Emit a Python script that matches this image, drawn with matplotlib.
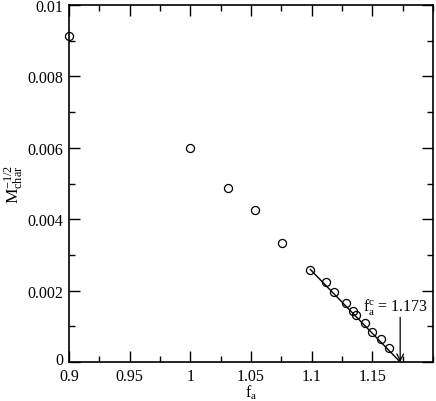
import matplotlib
matplotlib.use("Agg")
import matplotlib.pyplot as plt
import matplotlib.transforms as mtransforms
from matplotlib.ticker import MultipleLocator

plt.rcParams['font.family'] = ['Liberation Serif', 'DejaVu Serif']
plt.rcParams['mathtext.fontset'] = 'custom'
plt.rcParams['mathtext.rm'] = 'Liberation Serif'
plt.rcParams['mathtext.it'] = 'Liberation Serif:italic'

# data
fa_all = [0.9, 1.0, 1.031, 1.053, 1.076, 1.099, 1.112, 1.1185, 1.128, 1.134,
          1.137, 1.1437, 1.150, 1.157, 1.1638]
m_all = [0.00912, 0.00599, 0.00487, 0.00427, 0.00334, 0.00259, 0.00225,
         0.00197, 0.00164, 0.00144, 0.00132, 0.00109, 0.00085, 0.00064, 0.00040]
fit_x = [1.099, 1.173]
fit_y = [0.00259, 0.0]
fac = 1.173
arrow_top = 0.00125

xticks = [0.9, 0.95, 1.0, 1.05, 1.1, 1.15]
xticklabels = ['0.9', '0.95', '1', '1.05', '1.1', '1.15']
yticks = [0, 0.002, 0.004, 0.006, 0.008, 0.01]
yticklabels = ['0', '0.002', '0.004', '0.006', '0.008', '0.01']

fig = plt.figure(figsize=(4.36, 4.02), dpi=100)
ax = fig.add_axes([0.158, 0.097, 0.835, 0.888])

ax.plot(fit_x, fit_y, color='black', lw=1.0, zorder=2)
ax.plot(fa_all, m_all, linestyle='none', marker='o', markersize=5.8,
        markerfacecolor='none', markeredgecolor='black', markeredgewidth=0.9,
        clip_on=False, zorder=3)

ax.annotate('', xy=(fac, 0.0), xytext=(fac, arrow_top),
            arrowprops=dict(arrowstyle='->', color='black', lw=0.9,
                            mutation_scale=12, shrinkA=0, shrinkB=0))
ax.text(1.1696, 0.00158, r'$\mathrm{f}_{\mathrm{a}}^{\mathrm{c}}$ = 1.173',
        ha='center', va='center', fontsize=11.5)

ax.set_xlim(0.9, 1.2)
ax.set_ylim(0, 0.01)
ax.set_xticks(xticks)
ax.set_xticklabels(xticklabels)
ax.set_yticks(yticks)
ax.set_yticklabels(yticklabels)
ax.xaxis.set_minor_locator(MultipleLocator(0.025))
ax.yaxis.set_minor_locator(MultipleLocator(0.001))
ax.tick_params(which='both', direction='in', top=True, right=True,
               labelsize=11.5, width=1.0)
ax.tick_params(axis='x', which='both', pad=4)
ax.tick_params(axis='y', which='both', pad=4)
ax.tick_params(which='major', length=8)
ax.tick_params(which='minor', length=4)
for s in ax.spines.values():
    s.set_linewidth(1.2)
# lift the y "0" label a few pixels, as in the reference
zero_lbl = ax.get_yticklabels()[0]
zero_lbl.set_transform(zero_lbl.get_transform() +
                       mtransforms.ScaledTranslation(0, 3 / 72, fig.dpi_scale_trans))

ax.set_xlabel(r'$\mathrm{f}_{\mathrm{a}}$', fontsize=11.5, labelpad=-0.5)
ax.set_ylabel(r'$\mathrm{M}_{\mathrm{char}}^{\mathrm{-1/2}}$', fontsize=12.5, labelpad=2)

fig.savefig('out.png', dpi=100)
